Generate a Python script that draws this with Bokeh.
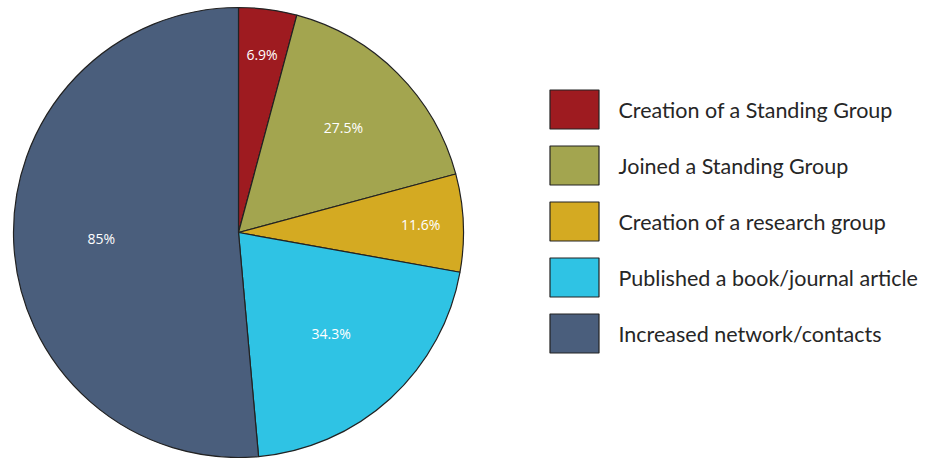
import math
from bokeh.plotting import figure
from bokeh.models import Range1d, ColumnDataSource
from bokeh.core.properties import value
from bokeh.embed import file_html
from bokeh.resources import INLINE

categories = ["Creation of a Standing Group", "Joined a Standing Group",
              "Creation of a research group", "Published a book/journal article",
              "Increased network/contacts"]
values = [6.9, 27.5, 11.6, 34.3, 85]
labels = ["6.9%", "27.5%", "11.6%", "34.3%", "85%"]
colors = ["#9E1B20", "#A3A54F", "#D4AA22", "#2FC3E4", "#4A5E7C"]
label_radius = [0.80, 0.66, 0.81, 0.61, 0.61]

W, H = 927, 458
p = figure(width=W, height=H, output_backend="svg", toolbar_location=None,
           x_range=Range1d(0, W), y_range=Range1d(0, H),
           min_border=0)
p.axis.visible = False
p.grid.visible = False
p.outline_line_color = None
p.background_fill_color = "white"

# image y -> data y
def Y(yi):
    return H - yi

cx, cy, R = 238, Y(232), 225
total = sum(values)
starts, ends, lx, ly = [], [], [], []
cum = 0.0
for v, lr in zip(values, label_radius):
    a0 = math.pi / 2 - cum / total * 2 * math.pi
    cum += v
    a1 = math.pi / 2 - cum / total * 2 * math.pi
    starts.append(a0)
    ends.append(a1)
    mid = (a0 + a1) / 2
    lx.append(cx + lr * R * math.cos(mid))
    ly.append(cy + lr * R * math.sin(mid))

src = ColumnDataSource(dict(start=starts, end=ends, color=colors,
                            lx=lx, ly=ly, label=labels))
p.wedge(x=cx, y=cy, radius=R, start_angle="start", end_angle="end",
        direction="clock", fill_color="color", line_color="#222222",
        line_width=1.2, source=src)
p.text(x="lx", y="ly", text="label", source=src, text_color="white",
       text_font=value("Open Sans"), text_font_size="14px",
       text_align="center", text_baseline="middle")

# legend
n = len(categories)
sx = [574] * n
sy = [Y(109 + 56 * i) for i in range(n)]
tx = [618] * n
lsrc = ColumnDataSource(dict(sx=sx, sy=sy, tx=tx, color=colors, name=categories))
p.rect(x="sx", y="sy", width=49, height=39, fill_color="color",
       line_color="#222222", line_width=1.2, source=lsrc)
p.text(x="tx", y="sy", text="name", source=lsrc, text_color="#262626",
       text_font=value("Lato"), text_font_size="21.5px",
       text_align="left", text_baseline="middle")

open("out.html", "w").write(file_html(p, INLINE))
